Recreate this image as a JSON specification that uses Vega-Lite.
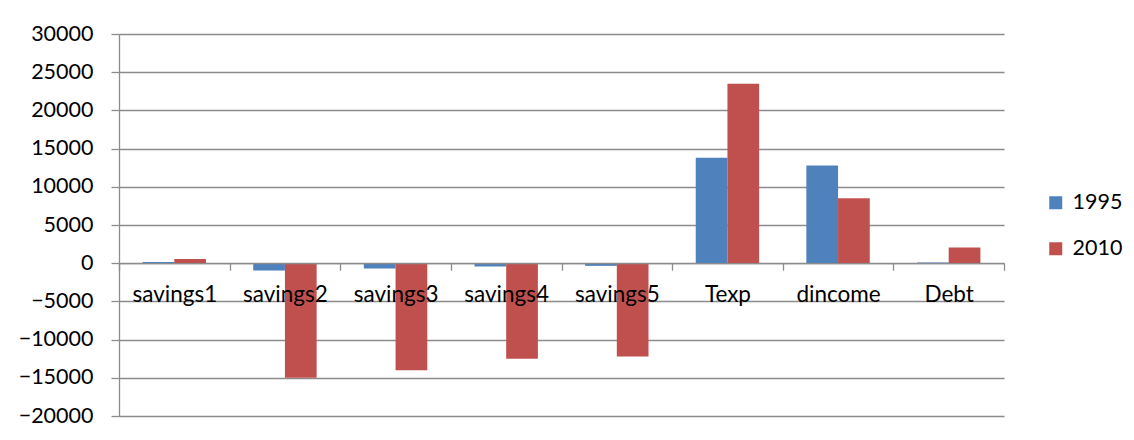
{
  "$schema": "https://vega.github.io/schema/vega-lite/v6.json",
  "autosize": {"type": "none"},
  "width": 885,
  "height": 382,
  "padding": {"left": 119, "top": 34, "right": 130, "bottom": 24},
  "background": "white",
  "data": {
    "values": [
      {"category": "savings1", "year": "1995", "value": 170},
      {"category": "savings1", "year": "2010", "value": 550},
      {"category": "savings2", "year": "1995", "value": -960},
      {"category": "savings2", "year": "2010", "value": -15000},
      {"category": "savings3", "year": "1995", "value": -700},
      {"category": "savings3", "year": "2010", "value": -14000},
      {"category": "savings4", "year": "1995", "value": -440},
      {"category": "savings4", "year": "2010", "value": -12500},
      {"category": "savings5", "year": "1995", "value": -350},
      {"category": "savings5", "year": "2010", "value": -12200},
      {"category": "Texp", "year": "1995", "value": 13800},
      {"category": "Texp", "year": "2010", "value": 23500},
      {"category": "dincome", "year": "1995", "value": 12800},
      {"category": "dincome", "year": "2010", "value": 8500},
      {"category": "Debt", "year": "1995", "value": 80},
      {"category": "Debt", "year": "2010", "value": 2050}
    ]
  },
  "mark": {"type": "bar"},
  "encoding": {
    "x": {
      "field": "category",
      "type": "nominal",
      "sort": null,
      "title": null,
      "scale": {"paddingInner": 0, "paddingOuter": 0},
      "axis": {
        "orient": "bottom",
        "offset": -152.8,
        "zindex": 1,
        "labelAngle": 0,
        "tickBand": "extent",
        "tickSize": 7,
        "tickColor": "#8c8c8c",
        "tickWidth": 1.3,
        "domainColor": "#8c8c8c",
        "domainWidth": 1.3,
        "labelBaseline": "alphabetic",
        "labelPadding": 31,
        "labelFont": "Lato",
        "labelFontSize": 22.5,
        "labelColor": "#000000",
        "grid": false
      }
    },
    "xOffset": {
      "field": "year",
      "type": "nominal",
      "scale": {"paddingInner": 0, "paddingOuter": 0.7445}
    },
    "y": {
      "field": "value",
      "type": "quantitative",
      "title": null,
      "scale": {"domain": [-20000, 30000], "nice": false, "zero": false},
      "axis": {
        "values": [-20000, -15000, -10000, -5000, 0, 5000, 10000, 15000, 20000, 25000, 30000],
        "format": "d",
        "grid": true,
        "gridColor": "#8c8c8c",
        "gridWidth": 1.3,
        "tickSize": 8,
        "tickColor": "#8c8c8c",
        "tickWidth": 1.3,
        "domainColor": "#8c8c8c",
        "domainWidth": 1.3,
        "labelPadding": 18,
        "labelFont": "Lato",
        "labelFontSize": 21.5,
        "labelColor": "#000000"
      }
    },
    "color": {
      "field": "year",
      "type": "nominal",
      "title": null,
      "scale": {"domain": ["1995", "2010"], "range": ["#4F81BD", "#C0504D"]},
      "legend": {
        "orient": "none",
        "legendX": 926,
        "legendY": 158,
        "padding": 0,
        "symbolType": "square",
        "symbolSize": 169,
        "symbolStrokeWidth": 0,
        "labelFont": "Lato",
        "labelFontSize": 21.5,
        "labelColor": "#000000",
        "labelOffset": 6,
        "rowPadding": 23
      }
    }
  },
  "config": {
    "view": {"stroke": null},
    "axis": {"labelOverlap": false}
  }
}
